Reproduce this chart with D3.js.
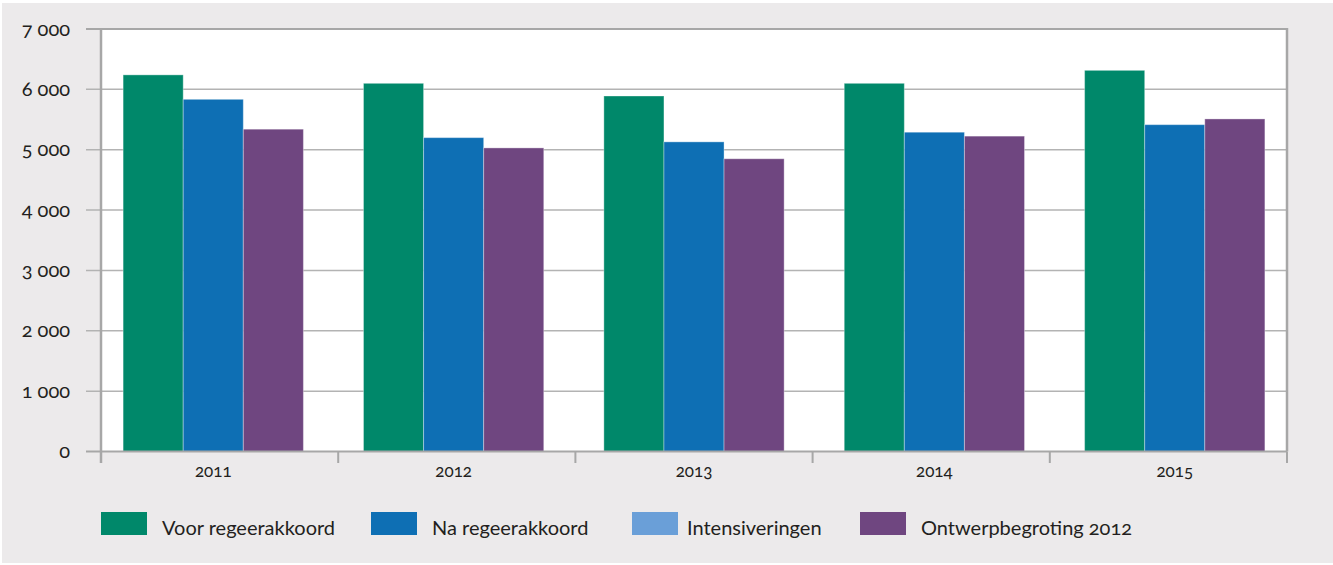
<!DOCTYPE html>
<html>
<head>
<meta charset="utf-8">
<script src="https://cdn.jsdelivr.net/npm/d3@7"></script>
<style>
  html, body { margin: 0; padding: 0; background: #ffffff; }
  svg text { font-family: Lato, "Open Sans", sans-serif; font-variant-numeric: oldstyle-nums; font-feature-settings: "onum" 1; }
  .ylab text { font-size: 20px; fill: #231f20; }
  .xlab text { font-size: 17px; fill: #231f20; }
  .legend text { font-size: 20px; fill: #231f20; }
</style>
</head>
<body>
<svg id="chart" width="1333" height="565"></svg>
<script>
// Budget figures per year (millions of euros)
const years = ["2011", "2012", "2013", "2014", "2015"];
const voorRegeerakkoord = [6240, 6100, 5890, 6100, 6315];
const naRegeerakkoord = [5835, 5200, 5130, 5290, 5415];
const intensiveringen = [0, 0, 0, 0, 0];
const ontwerpbegroting2012 = [5340, 5030, 4850, 5225, 5510];
const yTicks = [0, 1000, 2000, 3000, 4000, 5000, 6000, 7000];
const legendLabels = ["Voor regeerakkoord", "Na regeerakkoord", "Intensiveringen", "Ontwerpbegroting 2012"];

const colors = {
  voor: "#00886a",
  na: "#0e6fb4",
  intens: "#6a9fd8",
  ontwerp: "#6f4680"
};

const svg = d3.select("#chart");

// panel background
svg.append("rect").attr("x", 2).attr("y", 3).attr("width", 1331).attr("height", 560).attr("fill", "#eceaeb");

const plot = { left: 101, right: 1287, top: 29, bottom: 451.5 };

const y = d3.scaleLinear().domain([0, 7000]).range([plot.bottom, plot.top]);

// bar groups sit on their own band scale; boundary ticks are spread evenly
const x = d3.scaleBand().domain(years).range([plot.left, plot.right]).paddingInner(0.25).paddingOuter(0.092);
const drawn = ["voor", "na", "ontwerp"];
const xs = d3.scaleBand().domain(drawn).range([0, x.bandwidth()]);
const boundary = d3.scaleLinear().domain([0, years.length]).range([plot.left, plot.right]);

// plot area
svg.append("rect")
  .attr("x", plot.left).attr("y", plot.top)
  .attr("width", plot.right - plot.left).attr("height", plot.bottom - plot.top)
  .attr("fill", "#ffffff");

// gridlines (extending left past the axis as tick marks)
svg.append("g").selectAll("line").data(yTicks.filter(d => d > 0)).join("line")
  .attr("x1", 86).attr("x2", plot.right)
  .attr("y1", d => y(d)).attr("y2", d => y(d))
  .attr("stroke", d => d === 7000 ? "#a7a7a7" : "#b3b3b3")
  .attr("stroke-width", d => d === 7000 ? 2 : 1.5);

// bars
const rows = years.map((yr, i) => ({
  year: yr,
  voor: voorRegeerakkoord[i],
  na: naRegeerakkoord[i],
  intens: intensiveringen[i],
  ontwerp: ontwerpbegroting2012[i]
}));

const groups = svg.append("g").selectAll("g").data(rows).join("g")
  .attr("transform", d => `translate(${x(d.year)},0)`);

groups.selectAll("rect.main").data(d => drawn.map(k => ({ key: k, value: d[k] }))).join("rect")
  .attr("class", "main")
  .attr("x", d => xs(d.key))
  .attr("width", xs.bandwidth())
  .attr("y", d => y(d.value))
  .attr("height", d => y(0) - y(d.value))
  .attr("fill", d => colors[d.key])
  .attr("stroke", "rgba(255,255,255,0.35)")
  .attr("stroke-width", 1);

// intensiveringen stacked on top of "Na regeerakkoord"
groups.append("rect")
  .attr("x", xs("na"))
  .attr("width", xs.bandwidth())
  .attr("y", d => y(d.na + d.intens))
  .attr("height", d => y(d.na) - y(d.na + d.intens))
  .attr("fill", colors.intens);

// right border
svg.append("line")
  .attr("x1", plot.right).attr("x2", plot.right)
  .attr("y1", plot.top - 1).attr("y2", plot.bottom)
  .attr("stroke", "#a7a7a7").attr("stroke-width", 2.5);

// x axis baseline and boundary ticks
svg.append("line")
  .attr("x1", 86).attr("x2", plot.right)
  .attr("y1", plot.bottom).attr("y2", plot.bottom)
  .attr("stroke", "#a7a7a7").attr("stroke-width", 2);
svg.append("g").selectAll("line").data(d3.range(0, years.length + 1)).join("line")
  .attr("x1", d => boundary(d)).attr("x2", d => boundary(d))
  .attr("y1", plot.bottom).attr("y2", 463)
  .attr("stroke", "#a7a7a7").attr("stroke-width", 2);

// y axis line
svg.append("line")
  .attr("x1", plot.left).attr("x2", plot.left)
  .attr("y1", plot.top).attr("y2", 463)
  .attr("stroke", "#a7a7a7").attr("stroke-width", 2.5);

// y tick labels
const nl = d3.formatLocale({ decimal: ",", thousands: "\u202F", grouping: [3], currency: ["€", ""] });
const fmt = nl.format(",d");
const yAxis = d3.axisLeft(y).tickValues(yTicks).tickFormat(fmt).tickSize(0).tickPadding(31);
svg.append("g").attr("class", "ylab").attr("transform", `translate(${plot.left},0)`).call(yAxis)
  .attr("font-family", null).attr("font-size", null)
  .call(g => g.select(".domain").remove())
  .call(g => g.selectAll("text").attr("dy", "0.3em"));

// x labels at the centre of each bar group
const xAxis = d3.axisBottom(x).tickSize(0).tickPadding(13);
svg.append("g").attr("class", "xlab").attr("transform", `translate(0,${plot.bottom})`).call(xAxis)
  .attr("font-family", null).attr("font-size", null)
  .call(g => g.select(".domain").remove());

// legend
const legendKeys = ["voor", "na", "intens", "ontwerp"];
const legendX = [101, 371, 632, 860];
const legend = svg.append("g").attr("class", "legend").selectAll("g").data(legendLabels).join("g")
  .attr("transform", (d, i) => `translate(${legendX[i]},512)`);
legend.append("rect").attr("width", 46).attr("height", 23).attr("fill", (d, i) => colors[legendKeys[i]]);
legend.append("text").attr("x", (d, i) => i === 2 ? 55 : 61).attr("y", 23).text(d => d);
</script>
</body>
</html>
